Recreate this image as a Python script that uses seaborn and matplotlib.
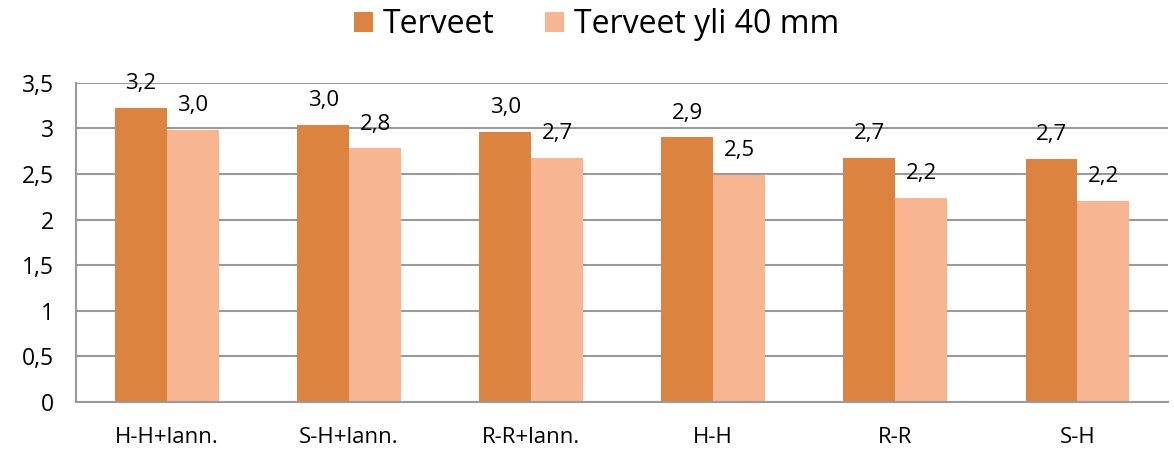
import matplotlib
matplotlib.use("Agg")
import matplotlib.pyplot as plt
import seaborn as sns
import pandas as pd
from matplotlib.patches import Patch

categories = ["H-H+lann.", "S-H+lann.", "R-R+lann.", "H-H", "R-R", "S-H"]
series_names = ["Terveet", "Terveet yli 40 mm"]
terveet = [3.22, 3.04, 2.96, 2.90, 2.68, 2.66]
terveet_yli40 = [2.98, 2.78, 2.68, 2.49, 2.24, 2.20]
yticks = [0, 0.5, 1, 1.5, 2, 2.5, 3, 3.5]
ytick_labels = ["0", "0,5", "1", "1,5", "2", "2,5", "3", "3,5"]

colors = ["#DB833F", "#F8B592"]

df = pd.DataFrame({
    "kategoria": categories * 2,
    "sarja": [series_names[0]] * len(categories) + [series_names[1]] * len(categories),
    "arvo": terveet + terveet_yli40,
})

sns.set_style("white")
plt.rcParams["font.family"] = ["Open Sans", "DejaVu Sans"]
plt.rcParams["text.color"] = "black"
plt.rcParams["xtick.color"] = "black"
plt.rcParams["ytick.color"] = "black"

fig = plt.figure(figsize=(11.74, 4.51), dpi=100)
ax = fig.add_axes([0.0647, 0.1086, 0.9306, 0.708])

sns.barplot(data=df, x="kategoria", y="arvo", hue="sarja", order=categories,
            hue_order=series_names, palette=colors, width=0.57, saturation=1,
            errorbar=None, ax=ax, legend=False, linewidth=0)

for cont in ax.containers:
    labels = [f"{b.get_height():.1f}".replace(".", ",") for b in cont]
    ax.bar_label(cont, labels=labels, padding=10, fontsize=16, color="black")

ax.set_ylim(0, 3.5)
ax.set_xlim(-0.5, len(categories) - 0.5)
ax.set_yticks(yticks)
ax.set_yticklabels(ytick_labels, fontsize=16.5)
ax.set_xticks(range(len(categories)))
ax.set_xticklabels(categories, fontsize=16)
ax.set_xticks([i - 0.5 for i in range(len(categories) + 1)], minor=True)
ax.tick_params(axis="x", which="major", length=0, pad=18)
ax.tick_params(axis="x", which="minor", length=5.8, width=1.5, color="#9A9A9A", direction="out")
ax.tick_params(axis="y", length=5.8, width=1.5, color="#9A9A9A", labelcolor="black",
               direction="out", pad=10)
ax.set_xlabel("")
ax.set_ylabel("")

ax.yaxis.grid(True, color="#9A9A9A", linewidth=1.5)
ax.set_axisbelow(True)
for side in ["top", "right"]:
    ax.spines[side].set_visible(False)
for side in ["left", "bottom"]:
    ax.spines[side].set_color("#9A9A9A")
    ax.spines[side].set_linewidth(1.5)

handles = [Patch(facecolor=c, edgecolor="none") for c in colors]
fig.legend(handles, series_names, loc="upper center", bbox_to_anchor=(0.508, 1.045),
           ncol=2, frameon=False, fontsize=23, handlelength=0.6, handleheight=0.6,
           handletextpad=0.3, columnspacing=1.6)

fig.savefig("out.png", dpi=100)
